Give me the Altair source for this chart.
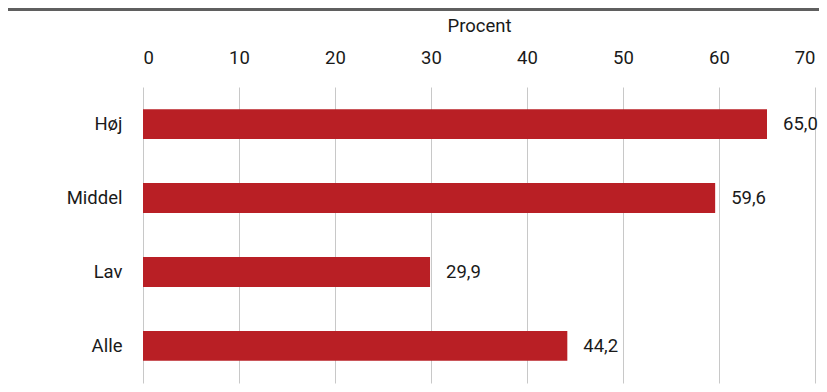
import altair as alt
import pandas as pd

categories = ["Høj", "Middel", "Lav", "Alle"]
values = [65.0, 59.6, 29.9, 44.2]
x_ticks = [0, 10, 20, 30, 40, 50, 60, 70]

df = pd.DataFrame({
    "kategori": categories,
    "procent": values,
    "label": [f"{v:.1f}".replace(".", ",") for v in values],
})

FONT = "Roboto"
FS = 18.5
TXT = "#1a1a1a"
W, H = 672, 296

base = alt.Chart(df).encode(
    y=alt.Y("kategori:N", sort=categories, title=None,
            scale=alt.Scale(paddingInner=0.595, paddingOuter=0.3),
            axis=alt.Axis(labelPadding=21, ticks=False, domain=False,
                          labelFontSize=FS, labelColor=TXT, labelFont=FONT,
                          labelFontWeight="normal")),
)

bars = base.mark_bar(color="#B91F25").encode(
    x=alt.X("procent:Q", title="Procent",
            scale=alt.Scale(domain=[0, 70], nice=False),
            axis=alt.Axis(orient="top", values=x_ticks, ticks=False, domain=False,
                          grid=True, gridColor="#c8c8c8", gridWidth=1,
                          labelPadding=20, labelFontSize=FS, labelColor=TXT,
                          labelFont=FONT, labelFontWeight="normal",
                          titleFont=FONT, titleFontSize=FS,
                          titleFontWeight="normal", titleColor=TXT,
                          titlePadding=13)),
)

text = base.mark_text(align="left", dx=16, fontSize=FS, font=FONT,
                      fontWeight="normal", color=TXT).encode(
    x="procent:Q",
    text="label:N",
)

topline = alt.Chart(pd.DataFrame({"a": [0]})).mark_rule(color="#5f5f5f", strokeWidth=3).encode(
    x=alt.value(-136), x2=alt.value(684), y=alt.value(-77.5)
)

chart = alt.layer(bars, text, topline).properties(
    width=W, height=H,
    autosize=alt.AutoSizeParams(type="none"),
    padding={"left": 135, "top": 79, "right": 4, "bottom": 1},
).configure_view(stroke=None)

chart.save("out.html", embed_options={"renderer": "svg", "actions": False})
